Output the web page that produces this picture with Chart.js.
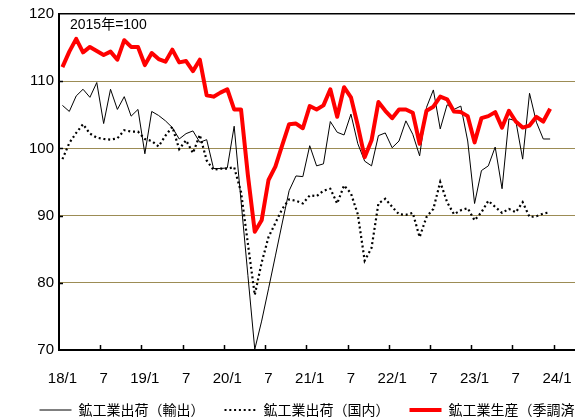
<!DOCTYPE html>
<html><head><meta charset="utf-8">
<script src="https://cdn.jsdelivr.net/npm/chart.js@4/dist/chart.umd.min.js"></script>
<style>
html,body{margin:0;padding:0;background:#fff;overflow:hidden;}
#wrap{position:relative;width:575px;height:420px;overflow:hidden;}
#box{position:absolute;left:-8px;top:0;width:648px;height:427px;}
canvas{display:block;}
</style></head><body>
<div id="wrap"><div id="box"><canvas id="c" width="648" height="427" style="width:648px;height:427px"></canvas></div></div>
<script>
const categories = [
 '2018/1','2018/2','2018/3','2018/4','2018/5','2018/6','2018/7','2018/8','2018/9','2018/10','2018/11','2018/12',
 '2019/1','2019/2','2019/3','2019/4','2019/5','2019/6','2019/7','2019/8','2019/9','2019/10','2019/11','2019/12',
 '2020/1','2020/2','2020/3','2020/4','2020/5','2020/6','2020/7','2020/8','2020/9','2020/10','2020/11','2020/12',
 '2021/1','2021/2','2021/3','2021/4','2021/5','2021/6','2021/7','2021/8','2021/9','2021/10','2021/11','2021/12',
 '2022/1','2022/2','2022/3','2022/4','2022/5','2022/6','2022/7','2022/8','2022/9','2022/10','2022/11','2022/12',
 '2023/1','2023/2','2023/3','2023/4','2023/5','2023/6','2023/7','2023/8','2023/9','2023/10','2023/11','2023/12',
 '2024/1','2024/2','2024/3','2024/4','2024/5','2024/6','2024/7','2024/8','2024/9','2024/10','2024/11','2024/12'
];
const tickLabels = ['18/1','7','19/1','7','20/1','7','21/1','7','22/1','7','23/1','7','24/1','7'];
const yTicks = [70,80,90,100,110,120];

const exportShipments = [
 106.4,105.5,107.8,108.8,107.6,109.8,103.7,108.8,105.8,107.7,104.8,105.8,
 99.2,105.5,104.9,104.1,103.1,101.4,102.2,102.6,100.9,101.3,97.0,97.0,
 97.1,103.3,92.2,81.1,70.1,74.3,79.1,84.0,88.9,93.7,95.9,95.8,
 100.4,97.4,97.7,104.0,102.4,102.0,105.1,100.7,98.1,97.4,101.9,102.3,
 100.1,101.1,104.1,102.1,98.9,106.1,108.7,102.9,106.5,105.8,106.3,101.1,
 91.8,96.7,97.4,100.2,94.0,104.4,104.1,98.4,108.2,103.9,101.4,101.4
];
const domesticShipments = [
 98.4,100.8,102.3,103.6,102.2,101.6,101.4,101.3,101.5,102.7,102.5,102.5,
 101.4,101.1,100.3,101.9,103.2,99.9,101.2,99.3,102.0,98.2,96.8,97.0,
 97.0,97.2,93.5,85.8,78.2,83.0,86.8,88.9,91.0,92.4,92.2,91.8,
 93.0,92.9,93.7,94.0,91.8,94.5,93.3,90.2,83.3,85.2,91.8,92.5,
 91.3,90.2,90.1,90.4,86.8,89.8,91.0,95.0,92.0,90.2,90.8,91.1,
 89.3,90.5,92.2,91.3,90.4,91.0,90.5,92.0,89.8,89.9,90.3,90.5
];
const production = [
 112.1,114.4,116.3,114.3,115.1,114.5,113.9,114.4,113.2,116.1,115.1,115.1,
 112.4,114.2,113.3,112.9,114.7,112.8,113.0,111.5,113.2,107.9,107.7,108.3,
 108.8,105.8,105.8,96.0,87.6,89.3,95.3,97.3,100.5,103.6,103.7,103.0,
 106.3,105.8,106.4,108.8,104.7,109.1,107.6,103.4,98.7,101.2,106.9,105.6,
 104.5,105.8,105.8,105.3,100.7,105.6,106.2,107.7,107.3,105.5,105.4,104.8,
 100.9,104.5,104.8,105.4,103.1,105.6,104.0,103.1,103.4,104.7,104.0,105.9
];
const seriesNames = ['鉱工業出荷（輸出）','鉱工業出荷（国内）','鉱工業生産（季調済）'];
const baseNote = '2015年=100';
const legendRank = [2,0,1]; // dataset index -> legend position

const GRID = '#9C8C55';
const NUM_FONT = '"Liberation Sans", Arial, "Noto Sans CJK JP", sans-serif';

const innerTicks = {
  id: 'innerTicks',
  afterDraw(chart) {
    const {ctx, chartArea, scales} = chart;
    const x = scales.x, y = scales.y;
    ctx.save();
    ctx.strokeStyle = '#000';
    ctx.lineWidth = 1.5;
    const half = (x.getPixelForValue(1) - x.getPixelForValue(0)) / 2;
    ctx.beginPath();
    for (let i = 6; i < categories.length; i += 6) {
      const px = Math.round(x.getPixelForValue(i) - half) + 0.5;
      ctx.moveTo(px, chartArea.bottom);
      ctx.lineTo(px, chartArea.bottom - 5);
    }
    yTicks.forEach(v => {
      if (v === 70 || v === 120) return;
      const py = Math.round(y.getPixelForValue(v)) + 0.5;
      ctx.moveTo(chartArea.left, py);
      ctx.lineTo(chartArea.left + 4, py);
    });
    ctx.stroke();
    ctx.fillStyle = '#000';
    ctx.font = '14px ' + NUM_FONT;
    ctx.textBaseline = 'middle';
    ctx.textAlign = 'left';
    ctx.fillText(baseNote, chartArea.left + 11, chartArea.top + 11);
    ctx.restore();
  }
};

new Chart(document.getElementById('c'), {
  type: 'line',
  data: {
    labels: categories,
    datasets: [
      {label: seriesNames[2], data: production, borderColor: '#FF0000', backgroundColor: '#FF0000',
       borderWidth: 4, pointRadius: 0, tension: 0, order: 0, borderJoinStyle: 'round'},
      {label: seriesNames[0], data: exportShipments, borderColor: '#000', backgroundColor: '#000',
       borderWidth: 1, pointRadius: 0, tension: 0, order: 1},
      {label: seriesNames[1], data: domesticShipments, borderColor: '#000', backgroundColor: '#000',
       borderWidth: 2.2, borderDash: [2, 2.8], pointRadius: 0, tension: 0, order: 2}
    ]
  },
  options: {
    responsive: false,
    animation: false,
    devicePixelRatio: 1,
    layout: {padding: {top: 11, right: 4, left: 0, bottom: 0}},
    plugins: {
      tooltip: {enabled: false},
      legend: {
        position: 'bottom',
        labels: {
          usePointStyle: true, pointStyle: 'line', pointStyleWidth: 32,
          padding: 20, color: '#000',
          font: {size: 14, family: '"Noto Sans CJK JP", sans-serif'},
          generateLabels: chart => {
            const items = Chart.defaults.plugins.legend.labels.generateLabels(chart);
            items.forEach(it => {
              const ds = chart.data.datasets[it.datasetIndex];
              it.lineDash = ds.borderDash || [];
              it.lineWidth = ds.borderWidth;
              it.strokeStyle = ds.borderColor;
              it.pointStyle = 'line';
            });
            return items;
          },
          sort: (a, b) => legendRank[a.datasetIndex] - legendRank[b.datasetIndex]
        }
      }
    },
    scales: {
      x: {
        type: 'category',
        offset: true,
        afterFit: s => { s.height = 33; },
        grid: {display: false, drawTicks: false},
        border: {display: true, color: '#000', width: 2},
        ticks: {
          autoSkip: false, maxRotation: 0, minRotation: 0, padding: 20, color: '#000',
          font: {size: 15, family: NUM_FONT},
          callback: (v, i) => (i % 6 === 0 ? tickLabels[i / 6] : null)
        }
      },
      y: {
        min: 70, max: 120,
        afterFit: s => { s.width = 67; },
        grid: {
          drawTicks: false,
          color: c => c.tick.value === 120 ? '#000' : (c.tick.value === 70 ? 'rgba(0,0,0,0)' : GRID),
          lineWidth: c => c.tick.value === 120 ? 1.5 : 1
        },
        border: {display: true, color: '#000', width: 2},
        ticks: {stepSize: 10, padding: 5, color: '#000', font: {size: 15, family: NUM_FONT}}
      }
    }
  },
  plugins: [innerTicks]
});
</script>
</body></html>
